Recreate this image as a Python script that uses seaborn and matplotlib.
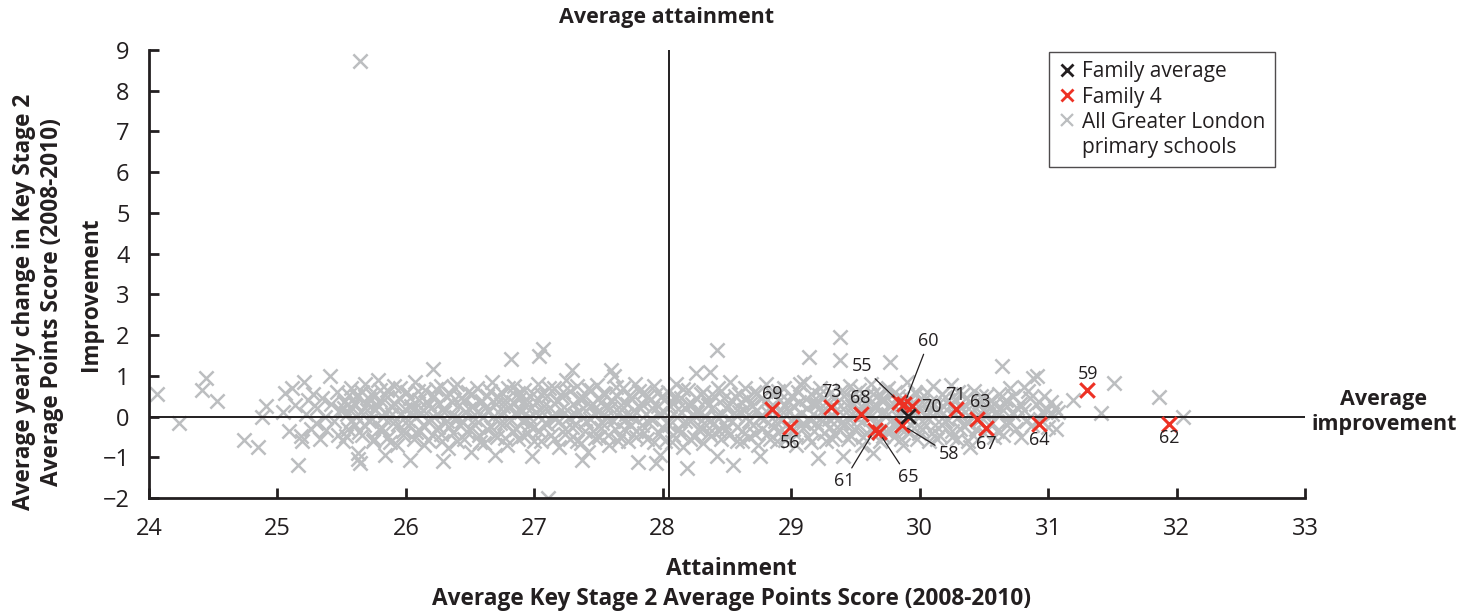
import pandas as pd
import matplotlib
matplotlib.use("Agg")
import matplotlib.pyplot as plt
import seaborn as sns
from matplotlib.lines import Line2D

# all Greater London primary schools (attainment, improvement)
gray_outliers = [
    (24.06, 0.56), (24.23, -0.15), (24.44, 0.94), (24.41, 0.66), (24.53, 0.39),
    (24.74, -0.57), (24.85, -0.76), (24.91, 0.25), (24.88, 0.0), (25.64, 8.73),
    (31.19, 0.41), (31.41, 0.08), (31.51, 0.82), (31.86, 0.47), (32.05, -0.01),
]
gray_25 = [
    (25.04, 0.12), (25.06, 0.58), (25.09, -0.35), (25.11, 0.7), (25.14, 0.28), (25.16, -1.2),
    (25.18, -0.48), (25.19, -0.6), (25.21, 0.86), (25.22, 0.05), (25.24, 0.4), (25.26, -0.3),
    (25.28, 0.55), (25.3, -0.15), (25.31, 0.2), (25.33, -0.55), (25.35, 0.45), (25.37, 0.0),
    (25.38, -0.32), (25.41, 1.0), (25.42, 0.3), (25.44, -0.1), (25.46, 0.6), (25.47, -0.45),
    (25.49, 0.15), (25.51, -0.6), (25.52, 0.35), (25.54, 0.05), (25.55, -0.3), (25.57, 0.7),
    (25.58, 0.2), (25.6, -0.2), (25.61, 0.5), (25.63, -0.9), (25.63, -1.05), (25.64, -1.14),
    (25.65, 0.1), (25.66, -0.45), (25.68, 0.8), (25.7, 0.3), (25.71, -0.1), (25.73, 0.55),
    (25.74, -0.6), (25.76, 0.15), (25.78, 0.9), (25.79, -0.3), (25.8, 0.4), (25.82, 0.0),
    (25.84, -0.94), (25.85, 0.65), (25.86, -0.5), (25.88, 0.25), (25.9, -0.15), (25.91, 0.75),
    (25.93, -0.7), (25.95, 0.45), (25.96, 0.05), (25.98, -0.35),
]
gray_26 = [
    (26.01, 0.6), (26.02, -0.2), (26.03, -1.06), (26.04, 0.25), (26.06, -0.55), (26.07, 0.85),
    (26.08, 0.0), (26.1, 0.4), (26.11, -0.35), (26.13, 0.15), (26.14, -0.7), (26.15, 0.65),
    (26.17, -0.1), (26.18, 0.3), (26.2, -0.45), (26.21, 1.16), (26.22, 0.5), (26.24, 0.05),
    (26.25, -0.25), (26.27, 0.75), (26.28, -0.6), (26.29, -1.1), (26.3, 0.2), (26.32, -0.1),
    (26.33, -0.78), (26.34, 0.55), (26.36, 0.35), (26.37, -0.4), (26.39, 0.0), (26.4, 0.8),
    (26.42, -0.2), (26.43, 0.45), (26.45, -0.55), (26.46, 0.1), (26.48, 0.6), (26.49, -0.3),
    (26.51, -0.86), (26.52, 0.25), (26.54, -0.05), (26.55, 0.7), (26.57, -0.45), (26.58, 0.35),
    (26.6, 0.0), (26.61, -0.65), (26.63, 0.5), (26.64, 0.15), (26.66, -0.25), (26.67, 0.85),
    (26.69, -0.94), (26.7, 0.3), (26.71, -0.5), (26.73, 0.05), (26.74, 0.6), (26.76, -0.15),
    (26.77, 0.4), (26.79, -0.7), (26.8, 0.2), (26.82, 1.41), (26.83, -0.35), (26.84, 0.75),
    (26.86, 0.1), (26.87, -0.55), (26.89, 0.45), (26.9, -0.1), (26.92, 0.65), (26.93, 0.25),
    (26.95, -0.4), (26.96, 0.0), (26.98, -0.98), (26.99, 0.55),
]
gray_27 = [
    (27.0, -0.25), (27.01, 0.35), (27.03, 0.8), (27.04, 1.49), (27.05, -0.6), (27.06, 0.1),
    (27.07, 1.66), (27.08, -0.15), (27.1, 0.5), (27.11, -2.0), (27.12, 0.2), (27.13, -0.45),
    (27.15, 0.7), (27.16, -0.05), (27.18, 0.4), (27.19, -0.75), (27.21, 0.15), (27.22, 0.6),
    (27.24, -0.3), (27.25, 0.9), (27.27, 0.0), (27.28, -0.55), (27.29, 1.15), (27.3, 0.3),
    (27.32, -0.2), (27.33, 0.75), (27.35, 0.1), (27.36, -0.65), (27.37, -1.07), (27.38, 0.45),
    (27.4, -0.1), (27.42, -0.86), (27.43, 0.25), (27.44, 0.65), (27.46, -0.35), (27.47, 0.05),
    (27.49, 0.78), (27.5, -0.5), (27.52, 0.35), (27.53, -0.15), (27.55, 0.55), (27.56, 0.0),
    (27.58, -0.7), (27.59, 0.2), (27.6, 1.15), (27.62, 0.99), (27.63, -0.3), (27.64, 0.5),
    (27.66, 0.1), (27.67, -0.5), (27.69, 0.7), (27.7, -0.1), (27.72, 0.3), (27.73, -0.6),
    (27.75, 0.45), (27.76, 0.0), (27.78, 0.8), (27.79, -0.35), (27.81, -1.11), (27.82, 0.2),
    (27.84, -0.2), (27.85, 0.6), (27.87, 0.05), (27.88, -0.55), (27.9, 0.4), (27.91, -0.05),
    (27.93, 0.75), (27.95, -1.15), (27.96, 0.25), (27.97, -0.4), (27.98, -0.94), (27.99, 0.5),
]
gray_28 = [
    (28.01, 0.1), (28.02, -0.6), (28.04, 0.6), (28.05, -0.2), (28.07, 0.35), (28.08, -0.45),
    (28.1, 0.8), (28.11, 0.0), (28.13, -0.3), (28.14, 0.45), (28.16, -0.75), (28.17, 0.2),
    (28.19, -1.27), (28.2, 0.65), (28.21, -0.1), (28.23, 0.3), (28.24, -0.5), (28.26, 1.06),
    (28.27, 0.1), (28.29, -0.25), (28.3, 0.55), (28.31, -0.65), (28.33, 0.0), (28.34, 0.4),
    (28.36, -0.4), (28.37, 1.1), (28.38, 0.2), (28.4, -0.15), (28.42, 1.64), (28.42, -0.98),
    (28.43, 0.7), (28.45, -0.55), (28.46, 0.05), (28.48, 0.45), (28.49, -0.3), (28.51, 0.25),
    (28.52, 0.85), (28.54, -0.1), (28.55, -1.19), (28.56, 0.5), (28.58, -0.6), (28.59, 0.1),
    (28.61, 0.35), (28.62, -0.35), (28.64, 0.7), (28.65, 0.0), (28.67, -0.5), (28.68, 0.3),
    (28.7, -0.2), (28.71, 0.6), (28.73, 0.15), (28.74, -0.7), (28.76, -0.98), (28.77, 0.45),
    (28.79, -0.05), (28.8, 0.8), (28.82, -0.4), (28.83, 0.2), (28.85, 0.55), (28.86, -0.25),
    (28.88, 0.05), (28.89, -0.6), (28.91, 0.4), (28.92, -0.1), (28.94, 0.7), (28.95, 0.25),
    (28.97, -0.45), (28.98, 0.1),
]
gray_29 = [
    (29.0, 0.5), (29.01, -0.3), (29.03, 0.0), (29.04, -0.7), (29.06, 0.35), (29.07, 0.8),
    (29.09, -0.15), (29.1, 0.86), (29.12, 0.2), (29.13, -0.5), (29.14, 1.47), (29.15, 0.55),
    (29.17, 0.05), (29.18, -0.35), (29.2, 0.3), (29.21, -1.02), (29.22, 0.7), (29.24, -0.1),
    (29.25, 0.45), (29.27, -0.6), (29.28, 0.15), (29.3, -0.25), (29.31, 0.6), (29.33, 0.0),
    (29.34, -0.45), (29.36, 0.35), (29.38, 1.95), (29.38, 1.39), (29.39, -0.15), (29.4, -0.98),
    (29.41, 0.5), (29.43, 0.1), (29.44, -0.55), (29.46, 0.75), (29.47, 0.25), (29.49, -0.3),
    (29.5, 0.4), (29.52, -0.05), (29.53, 0.65), (29.55, -0.7), (29.56, 0.2), (29.58, 0.5),
    (29.59, -0.4), (29.61, 0.0), (29.62, 0.8), (29.64, -0.9), (29.65, 0.3), (29.66, -0.2),
    (29.68, 0.55), (29.69, -0.6), (29.71, 0.1), (29.72, 0.4), (29.74, -0.35), (29.75, 0.7),
    (29.77, 1.33), (29.77, -0.1), (29.78, 0.25), (29.8, -0.5), (29.81, 0.6), (29.83, 0.0),
    (29.84, -0.25), (29.86, 0.45), (29.87, -0.7), (29.89, 0.15), (29.9, 0.85), (29.92, -0.4),
    (29.93, 0.3), (29.95, -0.1), (29.96, 0.6), (29.98, -0.55),
]
gray_30 = [
    (30.0, 0.2), (30.02, -0.3), (30.03, 0.5), (30.05, 0.0), (30.07, -0.6), (30.08, 0.35),
    (30.1, 0.75), (30.12, -0.2), (30.13, 0.1), (30.15, -0.45), (30.17, 0.55), (30.18, 0.25),
    (30.2, -0.1), (30.22, 0.4), (30.24, 0.78), (30.25, -0.35), (30.27, 0.05), (30.29, -0.55),
    (30.3, 0.6), (30.32, 0.2), (30.34, -0.2), (30.36, 0.45), (30.38, -0.6), (30.39, -0.74),
    (30.41, 0.1), (30.42, 0.62), (30.44, -0.3), (30.46, 0.35), (30.48, 0.0), (30.5, -0.4),
    (30.52, 0.5), (30.54, 0.2), (30.56, -0.15), (30.58, 0.3), (30.6, -0.35), (30.62, 0.55),
    (30.64, 1.25), (30.65, 0.15), (30.67, 0.4), (30.68, -0.2), (30.7, 0.7), (30.73, 0.05),
    (30.75, -0.3), (30.78, 0.3), (30.81, 0.72), (30.83, -0.1), (30.86, 0.45), (30.88, 0.95),
    (30.91, 1.0), (30.93, 0.35), (30.95, 0.1), (30.98, 0.2), (31.0, -0.25), (31.03, 0.05),
    (31.06, -0.3), (31.08, 0.1),
]
# the dense middle of the band
gray_core_a = [
    (25.515, 0.22), (25.535, -0.48), (25.555, 0.52), (25.575, -0.12), (25.595, 0.34),
    (25.615, 0.02), (25.635, -0.38), (25.655, 0.61), (25.675, -0.22), (25.695, 0.15),
    (25.715, 0.42), (25.735, -0.05), (25.755, -0.55), (25.775, 0.28), (25.795, 0.66),
    (25.815, -0.28), (25.835, 0.12), (25.855, 0.48), (25.875, -0.62), (25.895, 0.05),
    (25.915, 0.32), (25.935, -0.18), (25.955, 0.7), (25.975, -0.45), (25.995, 0.18),
    (26.015, -0.08), (26.035, 0.45), (26.055, 0.15), (26.075, -0.38), (26.095, 0.62),
    (26.115, 0.08), (26.135, -0.2), (26.155, 0.35), (26.175, -0.58), (26.195, 0.22),
    (26.215, -0.02), (26.235, 0.68), (26.255, 0.32), (26.275, -0.42), (26.295, 0.12),
    (26.315, 0.5), (26.335, -0.25), (26.355, 0.02), (26.375, 0.72), (26.395, -0.6),
    (26.415, 0.28), (26.435, -0.1), (26.455, 0.4), (26.475, -0.38), (26.495, 0.18),
    (26.515, 0.55), (26.535, -0.2), (26.555, 0.1), (26.575, -0.62), (26.595, 0.38),
    (26.615, 0.22), (26.635, -0.3), (26.655, 0.62), (26.675, 0.0), (26.695, -0.45),
    (26.715, 0.48), (26.735, -0.15), (26.755, 0.25), (26.775, -0.52), (26.795, 0.7),
    (26.815, -0.08), (26.835, 0.35), (26.855, -0.3), (26.875, 0.58), (26.895, 0.12),
    (26.915, -0.48), (26.935, 0.42), (26.955, -0.2), (26.975, 0.2), (26.995, -0.6),
    (27.015, 0.12), (27.035, -0.35), (27.055, 0.55), (27.075, 0.25), (27.095, -0.18),
    (27.115, 0.7), (27.135, 0.02), (27.155, -0.55), (27.175, 0.38), (27.195, -0.1),
    (27.215, 0.48), (27.235, -0.42), (27.255, 0.15), (27.275, 0.62), (27.295, -0.25),
    (27.315, 0.05), (27.335, -0.6), (27.355, 0.42), (27.375, 0.2), (27.395, -0.35),
    (27.415, 0.68), (27.435, -0.05), (27.455, 0.3), (27.475, -0.52), (27.495, 0.12),
    (27.515, -0.28), (27.535, 0.58), (27.555, 0.22), (27.575, -0.45), (27.595, 0.4),
    (27.615, -0.12), (27.635, 0.72), (27.655, -0.6), (27.675, 0.28), (27.695, -0.3),
    (27.715, 0.05), (27.735, 0.5), (27.755, -0.22), (27.775, 0.15), (27.795, -0.5),
    (27.815, 0.62), (27.835, 0.3), (27.855, -0.4), (27.875, 0.48), (27.895, -0.15),
    (27.915, 0.22), (27.935, -0.62), (27.955, 0.58), (27.975, 0.08), (27.995, -0.25),
]
gray_core_b = [
    (28.015, 0.42), (28.035, -0.15), (28.055, 0.25), (28.075, -0.62), (28.095, 0.5),
    (28.115, 0.18), (28.135, -0.4), (28.155, 0.68), (28.175, -0.1), (28.195, 0.32),
    (28.215, -0.55), (28.235, 0.05), (28.255, 0.45), (28.275, -0.3), (28.295, 0.12),
    (28.315, 0.6), (28.335, -0.2), (28.355, 0.28), (28.375, -0.48), (28.395, 0.5),
    (28.415, 0.02), (28.435, -0.35), (28.455, 0.62), (28.475, -0.15), (28.495, 0.2),
    (28.515, -0.45), (28.535, 0.38), (28.555, 0.08), (28.575, -0.25), (28.595, 0.55),
    (28.615, -0.6), (28.635, 0.15), (28.655, 0.45), (28.675, -0.1), (28.695, 0.25),
    (28.715, -0.42), (28.735, 0.58), (28.755, 0.0), (28.775, -0.3), (28.795, 0.35),
    (28.815, 0.12), (28.835, -0.55), (28.855, 0.28), (28.875, -0.12), (28.895, 0.62),
    (28.915, -0.35), (28.935, 0.1), (28.955, -0.58), (28.975, 0.38), (28.995, -0.08),
    (29.015, 0.25), (29.035, -0.45), (29.055, 0.6), (29.075, 0.08), (29.095, -0.28),
    (29.115, 0.42), (29.135, -0.05), (29.155, -0.62), (29.175, 0.3), (29.195, -0.15),
    (29.215, 0.52), (29.235, 0.12), (29.255, -0.4), (29.275, 0.38), (29.295, -0.05),
    (29.315, -0.55), (29.335, 0.45), (29.355, 0.18), (29.375, -0.3), (29.395, 0.65),
    (29.415, -0.18), (29.435, 0.28), (29.455, -0.45), (29.475, 0.05), (29.495, 0.58),
    (29.515, -0.25), (29.535, 0.15), (29.555, -0.5), (29.575, 0.35), (29.595, 0.05),
    (29.615, -0.3), (29.635, 0.55), (29.655, 0.2), (29.675, -0.12), (29.695, 0.4),
    (29.715, -0.48), (29.735, 0.65), (29.755, 0.05), (29.775, -0.35), (29.795, 0.3),
    (29.815, -0.15), (29.835, 0.5), (29.855, -0.55), (29.875, 0.2), (29.895, -0.3),
    (29.915, 0.45), (29.935, -0.2), (29.955, 0.1), (29.975, 0.55), (29.995, -0.4),
    (30.015, 0.35), (30.035, -0.15), (30.055, 0.6), (30.075, 0.1), (30.095, -0.4),
    (30.115, 0.3), (30.135, -0.55), (30.155, 0.15), (30.175, -0.22), (30.195, 0.48),
    (30.215, -0.05), (30.235, 0.25), (30.255, -0.5), (30.275, 0.42), (30.295, 0.0),
    (30.315, -0.3), (30.335, 0.55), (30.355, 0.1), (30.375, -0.15), (30.395, 0.35),
    (30.415, -0.45), (30.435, 0.2), (30.455, -0.12), (30.475, 0.5), (30.495, 0.15),
    (30.515, -0.3), (30.535, 0.05), (30.555, 0.4), (30.575, -0.5), (30.595, 0.1),
    (30.615, 0.05), (30.645, -0.45), (30.665, 0.3), (30.695, -0.1), (30.725, 0.5),
    (30.755, 0.2), (30.785, -0.5), (30.815, 0.15), (30.845, 0.62), (30.875, -0.2),
    (30.905, 0.3), (30.935, -0.05), (30.965, 0.5), (30.995, 0.15), (31.025, 0.35),
    (31.055, 0.22),
]

# Family 4 schools
family_ids = [69, 56, 73, 68, 61, 65, 55, 60, 70, 58, 71, 63, 67, 64, 59, 62]
family_x = [28.85, 28.99, 29.31, 29.545, 29.65, 29.68, 29.84, 29.88, 29.94, 29.86,
            30.28, 30.45, 30.52, 30.93, 31.30, 31.94]
family_y = [0.18, -0.25, 0.23, 0.07, -0.33, -0.38, 0.36, 0.30, 0.25, -0.20,
            0.19, -0.06, -0.29, -0.19, 0.66, -0.19]

family_avg_x = [29.91]
family_avg_y = [0.01]

avg_attainment = 28.05
avg_improvement = 0.0

# where the school number labels sit (data coords), and which get a leader line
label_pos = {
    69: (28.85, 0.55), 56: (28.99, -0.65), 73: (29.31, 0.6), 68: (29.54, 0.45),
    61: (29.41, -1.58), 65: (29.91, -1.48), 55: (29.55, 1.24), 60: (30.07, 1.85),
    70: (30.09, 0.24), 58: (30.23, -0.92), 71: (30.28, 0.54), 63: (30.47, 0.35),
    67: (30.52, -0.67), 64: (30.93, -0.57), 59: (31.31, 1.04), 62: (31.94, -0.53),
}
leader = [61, 65, 55, 60, 58]

GRAY = "#bcbec0"
RED = "#ed3124"
INK = "#231f20"

plt.rcParams["font.family"] = ["Open Sans", "DejaVu Sans"]

gray_all = (gray_outliers + gray_25 + gray_26 + gray_27 + gray_28 + gray_29 + gray_30
            + gray_core_a + gray_core_b)
gray_df = pd.DataFrame(gray_all, columns=["attainment", "improvement"])
fam_df = pd.DataFrame({"attainment": family_x, "improvement": family_y, "id": family_ids})
avg_df = pd.DataFrame({"attainment": family_avg_x, "improvement": family_avg_y})

fig = plt.figure(figsize=(14.64, 6.12), dpi=100)
ax = fig.add_axes([0.1018, 0.1863, 0.7896, 0.732])

sns.scatterplot(data=gray_df, x="attainment", y="improvement", marker="x",
                color=GRAY, s=105, linewidth=1.8, ax=ax, zorder=2)
ax.axhline(avg_improvement, color=INK, lw=1.4, zorder=3)
ax.axvline(avg_attainment, color=INK, lw=1.4, zorder=3)
sns.scatterplot(data=fam_df, x="attainment", y="improvement", marker="x",
                color=RED, s=110, linewidth=2.2, ax=ax, zorder=4)
sns.scatterplot(data=avg_df, x="attainment", y="improvement", marker="x",
                color=INK, s=110, linewidth=2.0, ax=ax, zorder=5)

for sid, px, py in zip(family_ids, family_x, family_y):
    tx, ty = label_pos[sid]
    if sid in leader:
        ax.annotate(str(sid), xy=(px, py), xytext=(tx, ty), ha="center", va="center",
                    fontsize=13, color=INK, zorder=6,
                    arrowprops=dict(arrowstyle="-", color=INK, lw=0.9,
                                    shrinkA=1, shrinkB=5))
    else:
        ax.text(tx, ty, str(sid), ha="center", va="center", fontsize=13,
                color=INK, zorder=6)

ax.set_xlim(24, 33)
ax.set_ylim(-2, 9)
ax.set_xticks(range(24, 34))
ax.set_yticks(range(-2, 10))
ax.set_xlabel("")
ax.set_ylabel("")
for side in ["top", "right"]:
    ax.spines[side].set_visible(False)
for side in ["left", "bottom"]:
    ax.spines[side].set_linewidth(2)
    ax.spines[side].set_color(INK)
ax.tick_params(direction="in", length=7, width=2, labelsize=17, colors=INK, pad=14)

bold = dict(fontsize=16.3, fontweight="bold", color=INK)
fig.text(667 / 1464, 1 - 18 / 612, "Average attainment", ha="center", va="center",
         fontsize=15.5, fontweight="bold", color=INK)
fig.text(1384 / 1464, 1 - 412 / 612, "Average\nimprovement", ha="center", va="center",
         linespacing=1.3, fontsize=15.5, fontweight="bold", color=INK)
fig.text(731 / 1464, 1 - 569 / 612, "Attainment", ha="center", va="center", **bold)
fig.text(731 / 1464, 1 - 599 / 612, "Average Key Stage 2 Average Points Score (2008-2010)",
         ha="center", va="center", **bold)
fig.text(91 / 1464, 1 - 294 / 612, "Improvement", ha="center", va="center",
         rotation=90, **bold)
fig.text(38 / 1464, 1 - 302 / 612,
         "Average yearly change in Key Stage 2\nAverage Points Score (2008-2010)",
         ha="center", va="center", rotation=90, linespacing=1.2, **bold)

handles = [
    Line2D([], [], ls="none", marker="x", color=INK, ms=9, mew=2),
    Line2D([], [], ls="none", marker="x", color=RED, ms=9, mew=2),
    Line2D([], [], ls="none", marker="x", color=GRAY, ms=9, mew=1.6),
    Line2D([], [], ls="none"),
]
labels = ["Family average", "Family 4", "All Greater London", "primary schools"]
leg = ax.legend(handles, labels, loc="upper left", bbox_to_anchor=(0.7785, 0.9955),
                borderaxespad=0, frameon=True, fancybox=False, fontsize=15,
                handlelength=0.8, handletextpad=0.35, labelspacing=0.2,
                borderpad=0.45, labelcolor=INK)
leg.get_frame().set_edgecolor(INK)
leg.get_frame().set_linewidth(1.0)

fig.savefig("out.png", dpi=100)
